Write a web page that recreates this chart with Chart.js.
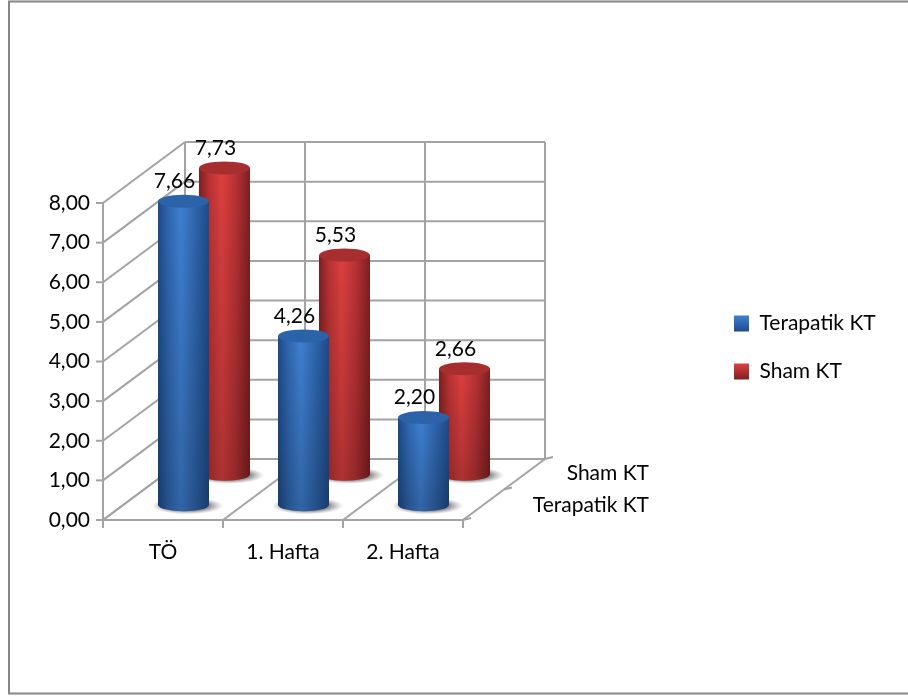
<!DOCTYPE html>
<html>
<head>
<meta charset="utf-8">
<title>Terapatik KT / Sham KT</title>
<script src="https://cdn.jsdelivr.net/npm/chart.js@4.4.0/dist/chart.umd.min.js"></script>
<style>
    html, body { margin: 0; padding: 0; background: #fff; overflow: hidden; }
    canvas { display: block; }
</style>
</head>
<body>
<canvas id="painChart" width="908" height="697"></canvas>
<script>
const categories = ["TÖ", "1. Hafta", "2. Hafta"];
const terapatikKT = [7.66, 4.26, 2.20];
const shamKT = [7.73, 5.53, 2.66];
const depthLabels = ["Terapatik KT", "Sham KT"];
const tickLabels = ["0,00", "1,00", "2,00", "3,00", "4,00", "5,00", "6,00", "7,00", "8,00"];

const FONT = "Lato, sans-serif";
const FONT_SIZE = 21;
const GRID_COLOR = "#a3a3a3";
const FRAME_COLOR = "#868686";

// Shear of the floor: how far the back wall sits from the front plane
const DEPTH_X = 82;
const DEPTH_Y = -61;
const ELLIPSE_RY = 6.5;
const LEGEND_PADDING = 27;

const palettes = [
    { edge: "#1d4a88", mid: "#2f66ae", light: "#3f7fd0", top: "#2c62a8" },
    { edge: "#7c1f20", mid: "#b83234", light: "#dc3f3f", top: "#a72e2f" },
];

function seriesShift(index) {
    // Each series stands in the middle of its own row on the floor
    const f = (index + 0.5) / depthLabels.length;
    return { x: DEPTH_X * f, y: DEPTH_Y * f };
}

function line(ctx, x1, y1, x2, y2) {
    ctx.beginPath();
    ctx.moveTo(x1, y1);
    ctx.lineTo(x2, y2);
    ctx.stroke();
}

function drawFloorShadow(ctx, cx, cy, rx) {
    ctx.save();
    ctx.translate(cx + 4, cy + 1);
    ctx.scale(1, 0.24);
    const glow = ctx.createRadialGradient(0, 0, rx * 0.75, 0, 0, rx * 1.4);
    glow.addColorStop(0, "rgba(70,70,70,0.75)");
    glow.addColorStop(1, "rgba(120,120,120,0)");
    ctx.fillStyle = glow;
    ctx.beginPath();
    ctx.arc(0, 0, rx * 1.4, 0, Math.PI * 2);
    ctx.fill();
    ctx.restore();
}

function drawCylinder(ctx, cx, topY, baseY, width, colors) {
    const rx = width / 2;
    const left = cx - rx;

    drawFloorShadow(ctx, cx, baseY, rx);

    ctx.save();
    ctx.beginPath();
    ctx.moveTo(left, topY);
    ctx.lineTo(left, baseY);
    ctx.ellipse(cx, baseY, rx, ELLIPSE_RY, 0, Math.PI, 0, true);
    ctx.lineTo(left + width, topY);
    ctx.closePath();
    ctx.clip();

    const body = ctx.createLinearGradient(left, 0, left + width, 0);
    body.addColorStop(0, colors.edge);
    body.addColorStop(0.2, colors.mid);
    body.addColorStop(0.45, colors.light);
    body.addColorStop(0.72, colors.mid);
    body.addColorStop(1, colors.edge);
    ctx.fillStyle = body;
    ctx.fillRect(left, topY, width, baseY - topY + ELLIPSE_RY + 1);

    // Bars get a little darker towards the floor
    const fade = ctx.createLinearGradient(0, topY, 0, baseY);
    fade.addColorStop(0, "rgba(0,0,0,0)");
    fade.addColorStop(1, "rgba(0,0,0,0.2)");
    ctx.fillStyle = fade;
    ctx.fillRect(left, topY, width, baseY - topY + ELLIPSE_RY + 1);
    ctx.restore();

    ctx.fillStyle = colors.top;
    ctx.beginPath();
    ctx.ellipse(cx, topY, rx, ELLIPSE_RY, 0, 0, Math.PI * 2);
    ctx.fill();
}

const chart3d = {
    id: "chart3d",

    afterLayout(chart) {
        // Legend floats to the right of the plot, it takes no room from it
        const legend = chart.legend;
        legend.left = 734 - LEGEND_PADDING;
        legend.right = chart.width;
        legend.top = 316 - LEGEND_PADDING - Math.ceil((FONT_SIZE - 16) / 2);
        legend.bottom = chart.height;
    },

    beforeDraw(chart) {
        const ctx = chart.ctx;
        ctx.save();
        ctx.strokeStyle = FRAME_COLOR;
        ctx.lineWidth = 2;
        ctx.strokeRect(9, 1.5, chart.width + 20, 692);
        ctx.restore();
    },

    beforeDatasetsDraw(chart) {
        const ctx = chart.ctx;
        const x = chart.scales.x;
        const y = chart.scales.y;
        const left = x.left;
        const right = x.right;
        const zero = y.getPixelForValue(0);
        const top = y.getPixelForValue(tickLabels.length - 1);
        const step = (right - left) / categories.length;

        ctx.save();
        ctx.strokeStyle = GRID_COLOR;
        ctx.lineWidth = 2;

        // Value gridlines across the side wall and the back wall, with their ticks
        tickLabels.forEach((label, i) => {
            const py = y.getPixelForValue(i);
            line(ctx, left - 7, py, left, py);
            line(ctx, left, py, left + DEPTH_X, py + DEPTH_Y);
            line(ctx, left + DEPTH_X, py + DEPTH_Y, right + DEPTH_X, py + DEPTH_Y);
        });
        line(ctx, left, top, left, zero);

        // Category lines on the front edge, floor and back wall
        for (let i = 0; i <= categories.length; i++) {
            const px = left + step * i;
            line(ctx, px, zero, px, zero + 8);
            line(ctx, px, zero, px + DEPTH_X, zero + DEPTH_Y);
            line(ctx, px + DEPTH_X, zero + DEPTH_Y, px + DEPTH_X, top + DEPTH_Y);
        }
        line(ctx, left, zero, right, zero);

        // Depth axis ticks and labels
        for (let i = 0; i <= depthLabels.length; i++) {
            const f = i / depthLabels.length;
            const px = right + DEPTH_X * f;
            const py = zero + DEPTH_Y * f;
            line(ctx, px, py, px + 8, py - 2);
        }
        ctx.fillStyle = "#000";
        ctx.font = FONT_SIZE + "px " + FONT;
        ctx.textAlign = "right";
        ctx.textBaseline = "middle";
        ctx.fillText(depthLabels[0], 649, 505);
        ctx.fillText(depthLabels[1], 649, 473);
        ctx.restore();
    },

    beforeDatasetDraw(chart, args) {
        const ctx = chart.ctx;
        const shift = seriesShift(args.index);
        ctx.save();
        args.meta.data.forEach((bar) => {
            drawCylinder(ctx, bar.x + shift.x, bar.y + shift.y, bar.base + shift.y, bar.width, palettes[args.index]);
        });
        ctx.restore();
        return false;
    },

    afterDatasetsDraw(chart) {
        const ctx = chart.ctx;
        ctx.save();
        ctx.fillStyle = "#000";
        ctx.font = FONT_SIZE + "px " + FONT;
        ctx.textAlign = "center";
        ctx.textBaseline = "middle";
        chart.data.datasets.forEach((dataset, d) => {
            const shift = seriesShift(d);
            chart.getDatasetMeta(d).data.forEach((bar, i) => {
                const text = dataset.data[i].toFixed(2).replace(".", ",");
                ctx.fillText(text, bar.x + shift.x - 9, bar.y + shift.y - 20);
            });
        });
        ctx.restore();
    },
};

const canvas = document.getElementById("painChart");
const ctx2d = canvas.getContext("2d");

function swatch(y, colors) {
    const g = ctx2d.createLinearGradient(0, y, 0, y + 16);
    g.addColorStop(0, colors.light);
    g.addColorStop(1, colors.edge);
    return g;
}

new Chart(canvas, {
    type: "bar",
    data: {
        labels: categories,
        datasets: [
            { label: depthLabels[0], data: terapatikKT, backgroundColor: palettes[0].light },
            { label: depthLabels[1], data: shamKT, backgroundColor: palettes[1].light },
        ],
    },
    options: {
        responsive: false,
        animation: false,
        layout: {
            padding: { left: 10, right: 445, top: 203, bottom: 117 },
        },
        datasets: {
            bar: { grouped: false, barThickness: 51 },
        },
        scales: {
            x: {
                grid: { display: false, drawTicks: false },
                border: { display: false },
                afterFit(scale) { scale.height = 60; },
                ticks: {
                    padding: 20,
                    color: "#000",
                    maxRotation: 0,
                    font: { family: FONT, size: FONT_SIZE },
                },
            },
            y: {
                min: 0,
                max: 8,
                grid: { display: false, drawTicks: false },
                border: { display: false },
                afterFit(scale) { scale.width = 93; },
                ticks: {
                    stepSize: 1,
                    padding: 13,
                    color: "#000",
                    font: { family: FONT, size: FONT_SIZE },
                    callback: (value) => tickLabels[value],
                },
            },
        },
        plugins: {
            tooltip: { enabled: false },
            legend: {
                position: "chartArea",
                align: "start",
                labels: {
                    boxWidth: 15,
                    boxHeight: 16,
                    padding: LEGEND_PADDING,
                    color: "#000",
                    font: { family: FONT, size: FONT_SIZE },
                    generateLabels: () => depthLabels.map((text, i) => ({
                        text: text,
                        fillStyle: swatch(316 + i * 48, palettes[i]),
                        strokeStyle: "rgba(0,0,0,0)",
                        lineWidth: 0,
                        datasetIndex: i,
                    })),
                },
            },
        },
    },
    plugins: [chart3d],
});
</script>
</body>
</html>
